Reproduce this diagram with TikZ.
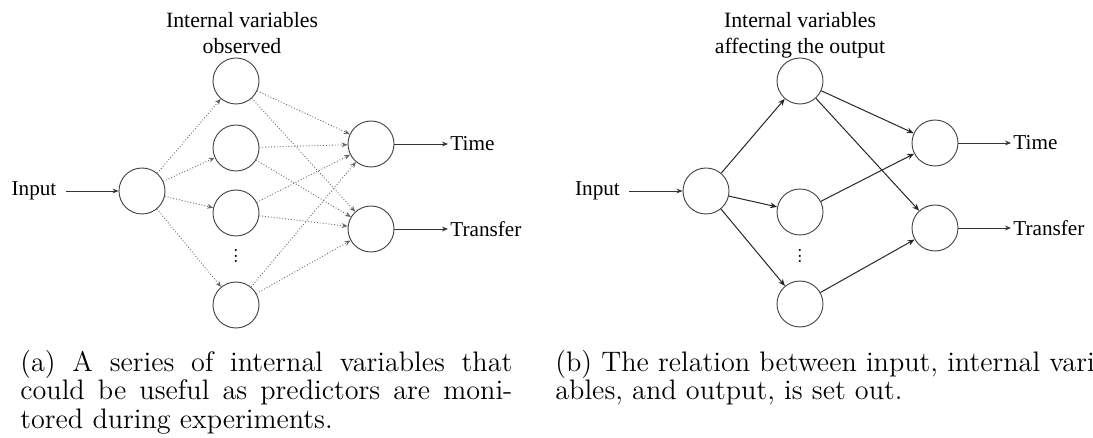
\documentclass[tikz,border=0pt]{standalone}
\usepackage{fontspec}
\newfontfamily\diagfont{Liberation Serif}
\usetikzlibrary{arrows.meta}

\tikzset{
  unit/.style={circle,draw=black!75,line width=0.45pt,minimum size=23pt,inner sep=0pt},
  lab/.style={font=\diagfont\fontsize{10.6}{12.8}\selectfont,inner sep=0pt},
  head/.style={font=\diagfont\fontsize{10.9}{12.9}\selectfont,inner sep=0pt,align=center,anchor=north},
  more/.style={font=\fontsize{10}{2.9}\selectfont,inner sep=0pt,align=center},
  obs/.style={densely dotted,draw=black!60,line width=0.45pt,-{Stealth[length=3pt,width=2.4pt]}},
  link/.style={draw=black!85,line width=0.5pt,-{Stealth[length=3.5pt,width=2.8pt]}},
  feed/.style={draw=black!80,line width=0.45pt,-{Stealth[length=3pt,width=2.4pt]}},
  subcap/.style={font=\fontsize{14.1}{14.4}\selectfont,inner sep=0pt,anchor=north west}
}

\begin{document}
\begin{tikzpicture}[x=0.5pt, y=-0.5pt]
    \useasboundingbox (0,0) rectangle (1093,438);
    % (a) observed variables
    \node[lab] (inA) at (34,191) {Input};
    \node[unit] (xA) at (142,191) {};
    \foreach \n/\y in {1/81,2/148,3/213,4/305}
        \node[unit] (hA\n) at (236,\y) {};
    \node[more] (dA) at (236,256) {.\\.\\.};
    \node[unit] (tA) at (371,144) {};
    \node[unit] (rA) at (371,229) {};
    \node[lab,anchor=west] (tlA) at (450,144) {Time};
    \node[lab,anchor=west] (rlA) at (450,229) {Transfer};
    \node[head] (ttA) at (242,12) {Internal variables\\observed};
    \draw[feed,shorten <=4.5pt] (inA) -- (xA);
    \foreach \n in {1,2,3,4} {
        \draw[obs] (xA) -- (hA\n);
        \draw[obs] (hA\n) -- (tA);
        \draw[obs] (hA\n) -- (rA);
    }
    \draw[feed,shorten >=1pt] (tA) -- (tlA.west);
    \draw[feed,shorten >=1pt] (rA) -- (rlA.west);
    % (b) variables affecting the output
    \node[lab] (inB) at (597.5,191) {Input};
    \node[unit] (xB) at (706,191) {};
    \foreach \n/\y in {1/81,2/212,3/304}
        \node[unit] (hB\n) at (800,\y) {};
    \node[more] (dB) at (800,256) {.\\.\\.};
    \node[unit] (tB) at (935,143) {};
    \node[unit] (rB) at (935,228) {};
    \node[lab,anchor=west] (tlB) at (1013,143) {Time};
    \node[lab,anchor=west] (rlB) at (1013,228) {Transfer};
    \node[head] (ttB) at (800,12) {Internal variables\\affecting the output};
    \draw[feed,shorten <=4.5pt] (inB) -- (xB);
    \foreach \n in {1,2,3}
        \draw[link] (xB) -- (hB\n);
    \draw[link] (hB1) -- (tB);
    \draw[link] (hB1) -- (rB);
    \draw[link] (hB2) -- (tB);
    \draw[link] (hB3) -- (rB);
    \draw[feed,shorten >=1pt] (tB) -- (tlB.west);
    \draw[feed,shorten >=1pt] (rB) -- (rlB.west);
    % captions
    \node[subcap,text width=246pt,align=justify] (capA) at (20,349.5)
        {(a) A series of internal variables that\linebreak could be useful as predictors are moni-\linebreak tored during experiments.};
    \node[subcap,align=left] (capB) at (555,349.5)
        {(b) The relation between input, internal vari-\\ables, and output, is set out.};
\end{tikzpicture}
\end{document}
